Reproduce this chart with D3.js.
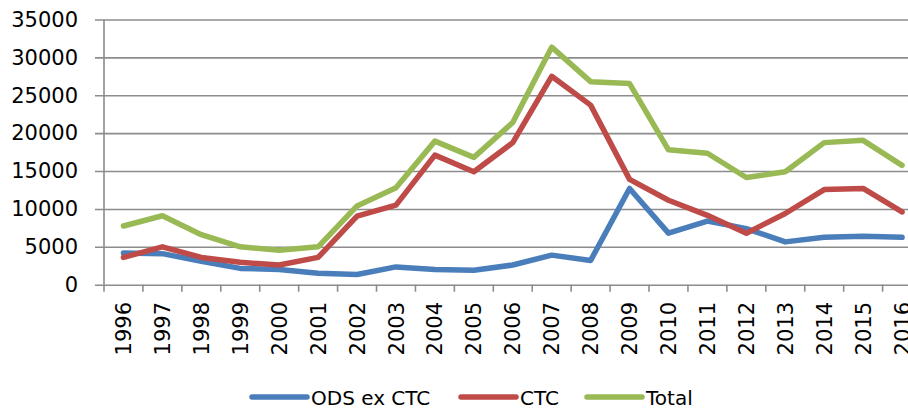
<!DOCTYPE html>
<html>
<head>
<meta charset="utf-8">
<script src="https://cdn.jsdelivr.net/npm/d3@7"></script>
<style>
  body { margin: 0; background: #fff; }
  text { font-family: "DejaVu Sans", sans-serif; font-size: 20px; fill: #000; }
</style>
</head>
<body>
<svg width="908" height="409"></svg>
<script>
var years = ["1996","1997","1998","1999","2000","2001","2002","2003","2004","2005","2006",
             "2007","2008","2009","2010","2011","2012","2013","2014","2015","2016"];
var odsExCtc = [4200,4100,3100,2150,2000,1500,1350,2350,2000,1900,2600,
                3900,3200,12700,6800,8400,7400,5650,6250,6400,6250];
var ctc = [3600,5000,3600,2950,2600,3600,9050,10500,17100,14900,18750,
           27500,23700,13900,11150,9150,6800,9400,12550,12700,9600];
var total = [7750,9100,6600,5000,4550,5000,10400,12800,18950,16800,21400,
             31350,26800,26550,17800,17350,14150,14900,18750,19050,15750];
var yTicks = [0,5000,10000,15000,20000,25000,30000,35000];

var series = [
    {name: "ODS ex CTC", values: odsExCtc, color: "#4a7ebb"},
    {name: "CTC", values: ctc, color: "#be4b48"},
    {name: "Total", values: total, color: "#98b954"}
];

var svg = d3.select("svg");
var plotLeft = 104, plotTop = 19.5, plotBottom = 284.7;
var bandW = 38.93;

var x = d3.scaleBand()
    .domain(years)
    .range([plotLeft, plotLeft + bandW * years.length])
    .paddingInner(0).paddingOuter(0);
var y = d3.scaleLinear().domain([0, 35000]).range([plotBottom, plotTop]);

var gridColor = "#8c8c8c";

// GRID + Y AXIS
var yAxis = d3.axisLeft(y)
    .tickValues(yTicks)
    .tickSizeInner(-(908 - plotLeft + 10))
    .tickSizeOuter(0)
    .tickFormat(d3.format("d"));
var gy = svg.append("g")
    .attr("transform", "translate(" + plotLeft + ",0)")
    .call(yAxis);
gy.select(".domain").remove();
gy.selectAll(".tick line")
    .attr("x1", -9)
    .attr("stroke", gridColor)
    .attr("stroke-width", 1.6);
gy.selectAll(".tick text")
    .attr("x", -26)
    .attr("fill", "#000")
    .style("font-family", "DejaVu Sans")
    .style("font-size", "21px");

// Y axis line
svg.append("line")
    .attr("x1", plotLeft).attr("x2", plotLeft)
    .attr("y1", plotTop).attr("y2", plotBottom)
    .attr("stroke", gridColor).attr("stroke-width", 1.6);

// X ticks between categories
var edges = years.map(function(d) { return x(d); }).concat([x.range()[1]]);
svg.selectAll(".xtick")
    .data(edges)
    .enter()
    .append("line")
    .attr("class", "xtick")
    .attr("x1", function(d) { return d; })
    .attr("x2", function(d) { return d; })
    .attr("y1", plotBottom)
    .attr("y2", plotBottom + 7)
    .attr("stroke", gridColor).attr("stroke-width", 1.6);

// X labels
svg.selectAll(".xlabel")
    .data(years)
    .enter()
    .append("text")
    .attr("class", "xlabel")
    .attr("text-anchor", "end")
    .attr("dy", "0.36em")
    .style("font-size", "21px")
    .attr("transform", function(d) {
        return "translate(" + (x(d) + x.bandwidth() / 2) + "," + 302 + ") rotate(-90)";
    })
    .text(function(d) { return d; });

// LINES
var line = d3.line()
    .x(function(d, i) { return x(years[i]) + x.bandwidth() / 2; })
    .y(function(d) { return y(d); });

svg.selectAll(".series")
    .data(series)
    .enter()
    .append("path")
    .attr("class", "series")
    .attr("fill", "none")
    .attr("stroke", function(d) { return d.color; })
    .attr("stroke-width", 5.5)
    .attr("stroke-linejoin", "round")
    .attr("stroke-linecap", "round")
    .attr("d", function(d) { return line(d.values); });

// LEGEND
var legendX = [252, 461, 587];
var legend = svg.selectAll(".legend")
    .data(series)
    .enter()
    .append("g")
    .attr("class", "legend")
    .attr("transform", function(d, i) { return "translate(" + legendX[i] + ",397)"; });
legend.append("line")
    .attr("x1", 0).attr("x2", 55)
    .attr("stroke", function(d) { return d.color; })
    .attr("stroke-width", 5.5)
    .attr("stroke-linecap", "round");
legend.append("text")
    .attr("x", 59)
    .attr("y", 8)
    .text(function(d) { return d.name; });
</script>
</body>
</html>
